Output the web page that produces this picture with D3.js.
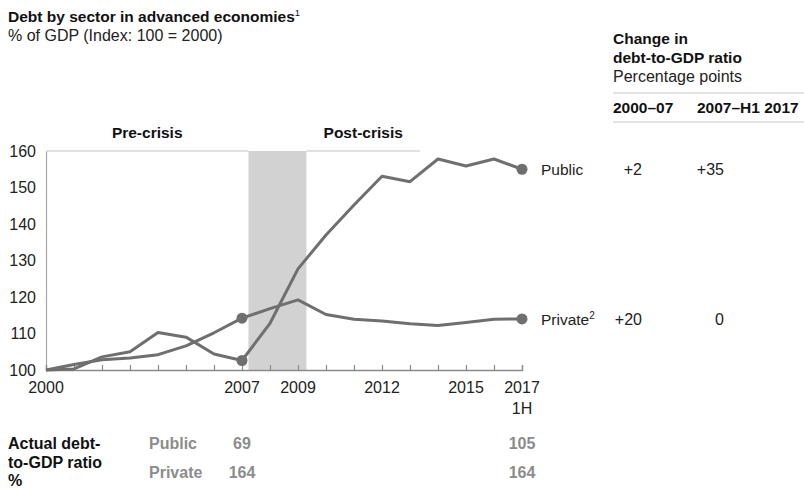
<!DOCTYPE html>
<html>
<head>
<meta charset="utf-8">
<script src="https://cdn.jsdelivr.net/npm/d3@7"></script>
<style>
  html, body { margin: 0; padding: 0; background: #fff; }
  svg { display: block; font-family: "Liberation Sans", Arial, sans-serif; }
</style>
</head>
<body>
<svg id="chart" width="804" height="488"></svg>
<script>
// Index of debt-to-GDP (100 = 2000), yearly through H1 2017
const years = [2000, 2001, 2002, 2003, 2004, 2005, 2006, 2007, 2008, 2009, 2010, 2011, 2012, 2013, 2014, 2015, 2016, 2017];
const publicIndex  = [100, 100.3, 103.6, 105.0, 110.3, 109.0, 104.4, 102.6, 112.8, 127.7, 137.0, 145.2, 153.1, 151.6, 157.8, 155.9, 157.8, 155.0];
const privateIndex = [100, 101.5, 102.8, 103.3, 104.2, 106.6, 110.2, 114.2, 116.8, 119.2, 115.2, 113.9, 113.4, 112.7, 112.2, 113.0, 113.9, 114.0];
const yTicks = [100, 110, 120, 130, 140, 150, 160];
const xTickLabels = [2000, 2007, 2009, 2012, 2015, 2017];
const crisisPeriod = [2007.23, 2009.3];
const seriesNames = ["Public", "Private"];
const change2000to07 = ["+2", "+20"];
const change2007toH1_2017 = ["+35", "0"];
const actualRatio2007 = [69, 164];
const actualRatioH1_2017 = [105, 164];

const svg = d3.select("#chart");
const lineColor = "#6f6f6f";
const boldSize = 15.5;
const textSize = 16;

const x = d3.scaleLinear().domain([2000, 2017]).range([46, 522]);
const y = d3.scaleLinear().domain([100, 160]).range([370, 151]);

// Titles
svg.append("text").attr("x", 8).attr("y", 22)
  .attr("font-size", boldSize).attr("font-weight", "bold").attr("fill", "#111")
  .text("Debt by sector in advanced economies")
  .append("tspan").attr("font-size", 9.5).attr("font-weight", "normal").attr("dy", -6).text("1");
svg.append("text").attr("x", 8).attr("y", 41)
  .attr("font-size", textSize).attr("fill", "#222")
  .text("% of GDP (Index: 100 = 2000)");

// Crisis shading
svg.append("rect")
  .attr("x", x(crisisPeriod[0])).attr("y", y(160))
  .attr("width", x(crisisPeriod[1]) - x(crisisPeriod[0]))
  .attr("height", y(100) - y(160))
  .attr("fill", "#d2d2d2");

// Period header rules and labels
svg.append("line").attr("x1", x(2000)).attr("x2", x(crisisPeriod[0]))
  .attr("y1", y(160)).attr("y2", y(160)).attr("stroke", "#c4c4c4").attr("stroke-width", 1.2);
svg.append("line").attr("x1", x(crisisPeriod[1])).attr("x2", 420)
  .attr("y1", y(160)).attr("y2", y(160)).attr("stroke", "#c4c4c4").attr("stroke-width", 1.2);
svg.append("text").attr("x", (x(2000) + x(crisisPeriod[0])) / 2).attr("y", 138)
  .attr("text-anchor", "middle").attr("font-size", boldSize).attr("font-weight", "bold").attr("fill", "#111")
  .text("Pre-crisis");
svg.append("text").attr("x", (x(crisisPeriod[1]) + 420) / 2).attr("y", 138)
  .attr("text-anchor", "middle").attr("font-size", boldSize).attr("font-weight", "bold").attr("fill", "#111")
  .text("Post-crisis");

// Y axis
const yAxis = svg.append("g").attr("transform", `translate(${x(2000)},0)`)
  .call(d3.axisLeft(y).tickValues(yTicks).tickSize(0).tickPadding(10));
yAxis.select(".domain").attr("stroke", "#a8a8a8").attr("stroke-width", 1.2);
yAxis.selectAll("text").attr("font-size", textSize).attr("fill", "#222")
  .attr("font-family", "Liberation Sans, Arial, sans-serif");

// X axis: yearly ticks pointing inward
const xAxis = svg.append("g").attr("transform", `translate(0,${y(100)})`)
  .call(d3.axisBottom(x).tickValues(years).tickSize(-5).tickFormat(""));
xAxis.select(".domain").attr("stroke", "#8a8a8a").attr("stroke-width", 1.3);
xAxis.selectAll(".tick line").attr("stroke", "#8a8a8a").attr("stroke-width", 1.2);

const xLabels = svg.append("g").attr("font-size", textSize).attr("fill", "#222");
xLabels.selectAll("text").data(xTickLabels).join("text")
  .attr("x", d => x(d)).attr("y", 393).attr("text-anchor", "middle").text(d => d);
xLabels.append("text").attr("x", x(2017)).attr("y", 414).attr("text-anchor", "middle").text("1H");

// Lines
const line = d3.line().x((d, i) => x(years[i])).y(d => y(d));
[publicIndex, privateIndex].forEach(series => {
  svg.append("path").datum(series).attr("d", line)
    .attr("fill", "none").attr("stroke", lineColor).attr("stroke-width", 3)
    .attr("stroke-linejoin", "round");
  // dots at 2007 and H1 2017
  [7, 17].forEach(i => {
    svg.append("circle").attr("cx", x(years[i])).attr("cy", y(series[i])).attr("r", 5.5).attr("fill", lineColor);
  });
});

// Series labels and change table
const ends = [publicIndex[17], privateIndex[17]];
seriesNames.forEach((name, i) => {
  const t = svg.append("text").attr("x", 541).attr("y", y(ends[i]) + 6)
    .attr("font-size", 15.5).attr("fill", "#222").text(name);
  if (name === "Private") t.append("tspan").attr("font-size", 10).attr("dy", -6).text("2");
  svg.append("text").attr("x", 642).attr("y", y(ends[i]) + 6).attr("text-anchor", "end")
    .attr("font-size", textSize).attr("fill", "#222").text(change2000to07[i]);
  svg.append("text").attr("x", 724).attr("y", y(ends[i]) + 6).attr("text-anchor", "end")
    .attr("font-size", textSize).attr("fill", "#222").text(change2007toH1_2017[i]);
});

// Table header
const hdr = svg.append("g").attr("font-size", boldSize).attr("fill", "#111");
hdr.append("text").attr("x", 613).attr("y", 44).attr("font-weight", "bold").text("Change in");
hdr.append("text").attr("x", 613).attr("y", 63).attr("font-weight", "bold").text("debt-to-GDP ratio");
hdr.append("text").attr("x", 613).attr("y", 82).attr("font-size", textSize).attr("fill", "#222").text("Percentage points");
hdr.append("text").attr("x", 613).attr("y", 113).attr("font-weight", "bold").text("2000–07");
hdr.append("text").attr("x", 697).attr("y", 113).attr("font-weight", "bold").text("2007–H1 2017");
svg.append("line").attr("x1", 613).attr("x2", 804).attr("y1", 93).attr("y2", 93).attr("stroke", "#c8c8c8").attr("stroke-width", 1.2);
svg.append("line").attr("x1", 613).attr("x2", 804).attr("y1", 122).attr("y2", 122).attr("stroke", "#c8c8c8").attr("stroke-width", 1.2);

// Actual debt-to-GDP ratio footer
const foot = svg.append("g").attr("font-size", textSize).attr("font-weight", "bold");
["Actual debt-", "to-GDP ratio", "%"].forEach((s, i) => {
  foot.append("text").attr("x", 8).attr("y", 449 + i * 18.5).attr("fill", "#111").text(s);
});
seriesNames.forEach((name, i) => {
  const yy = 449 + i * 29;
  foot.append("text").attr("x", 149).attr("y", yy).attr("fill", "#8c8c8c").text(name);
  foot.append("text").attr("x", x(2007)).attr("y", yy).attr("text-anchor", "middle").attr("fill", "#8c8c8c").text(actualRatio2007[i]);
  foot.append("text").attr("x", x(2017)).attr("y", yy).attr("text-anchor", "middle").attr("fill", "#8c8c8c").text(actualRatioH1_2017[i]);
});
</script>
</body>
</html>
